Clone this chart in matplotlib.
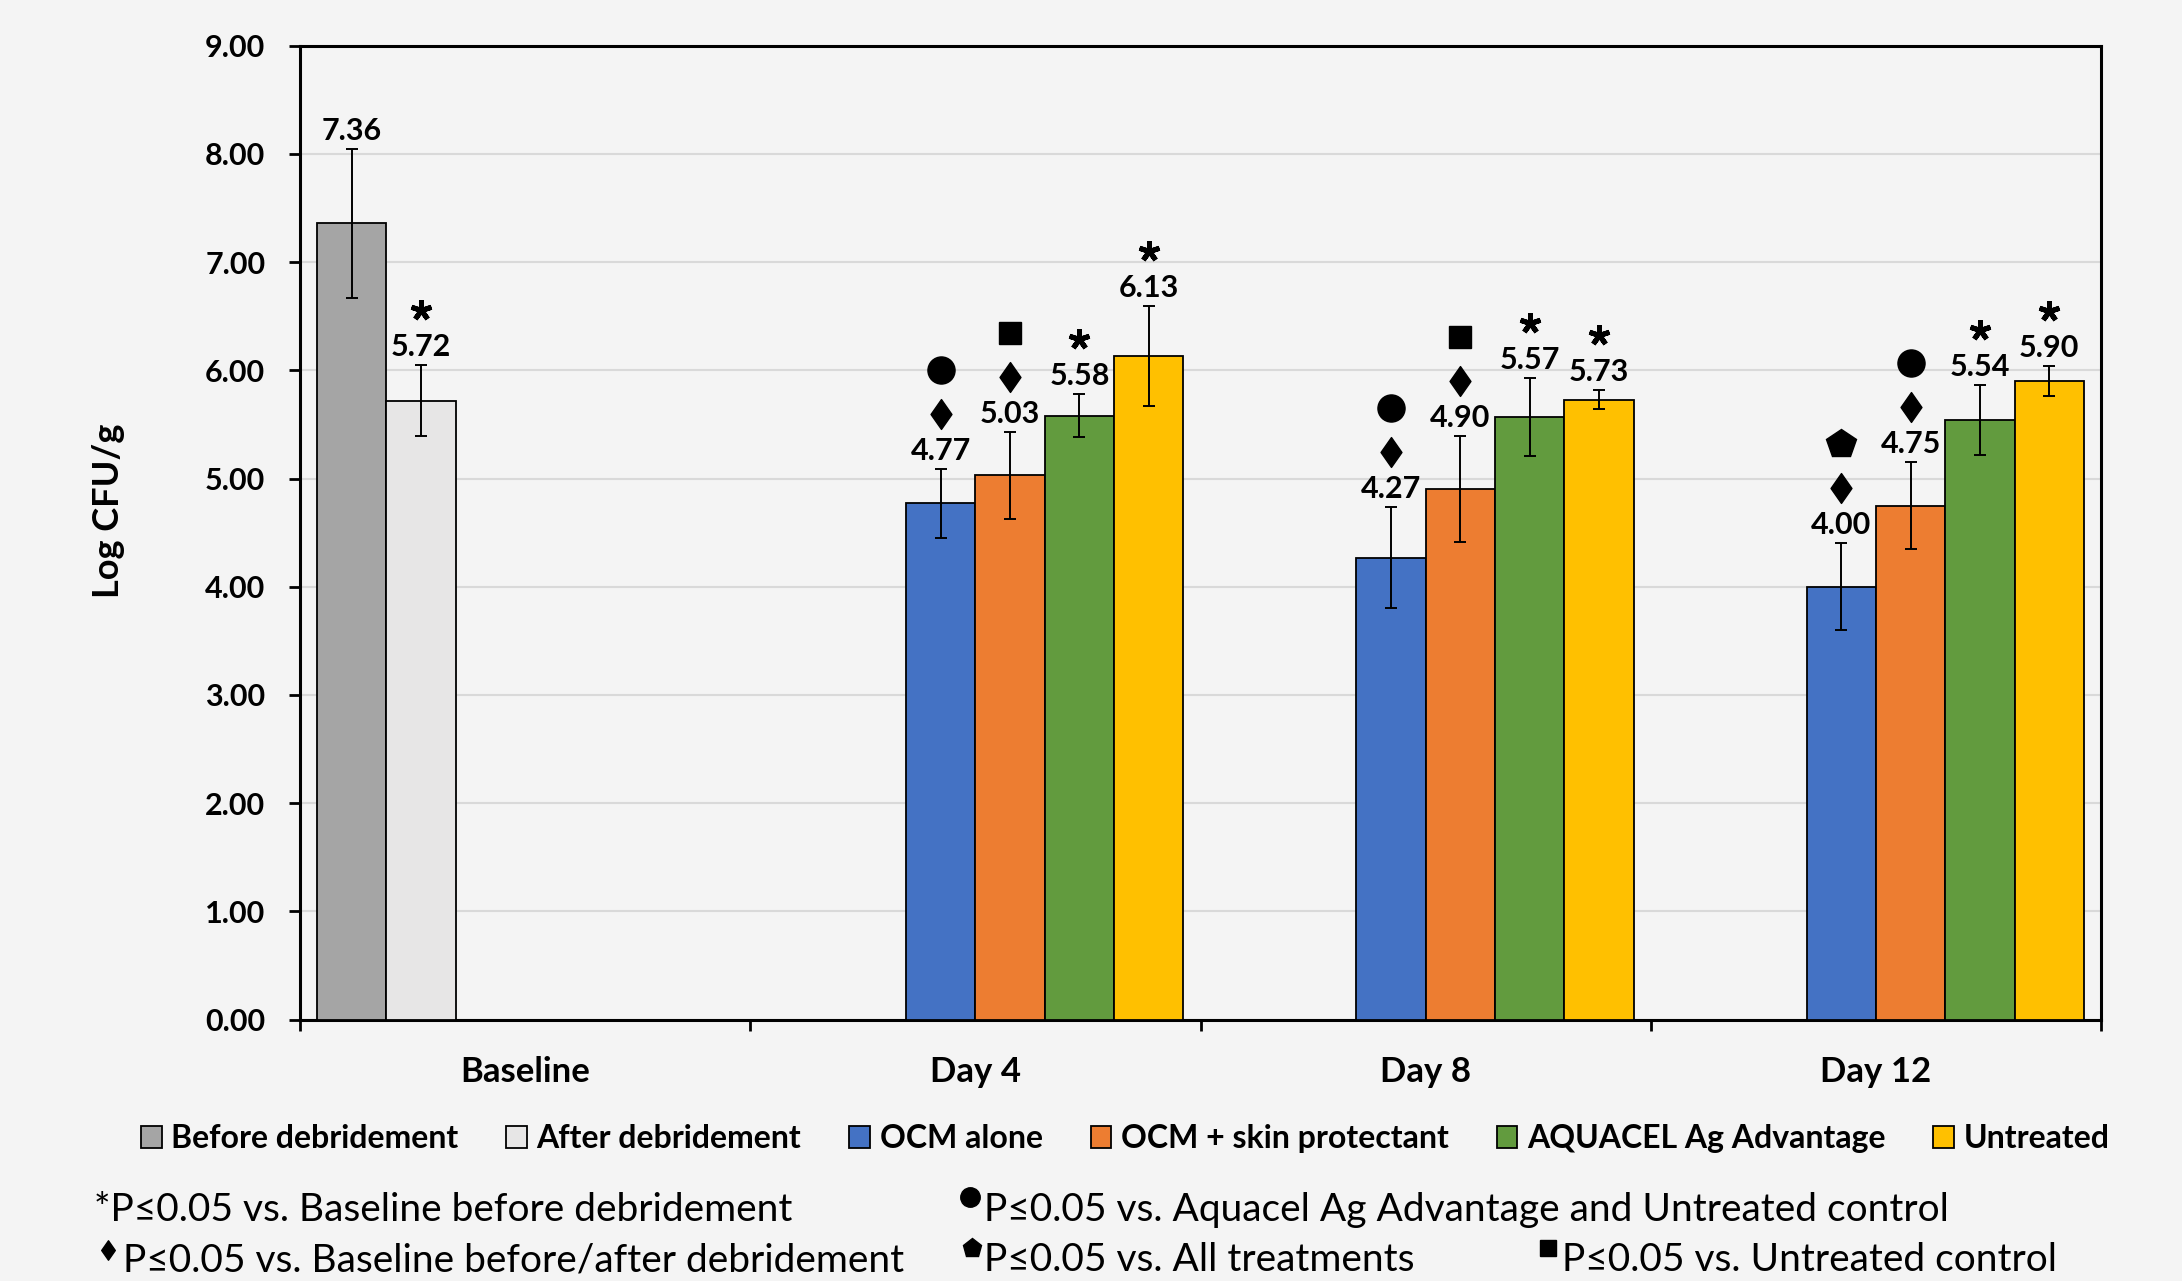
import numpy as np
import matplotlib
matplotlib.use("Agg")
import matplotlib.pyplot as plt
import matplotlib.transforms as mtransforms
from matplotlib.lines import Line2D
from matplotlib.patches import Patch
from matplotlib.path import Path

plt.rcParams['font.family'] = ['Lato', 'DejaVu Sans']

groups = ['Baseline', 'Day 4', 'Day 8', 'Day 12']
series = ['Before debridement', 'After debridement', 'OCM alone',
          'OCM + skin protectant', 'AQUACEL Ag Advantage', 'Untreated']
colors = ['#a5a5a5', '#e7e6e6', '#4472c4', '#ed7d31', '#629b3e', '#ffc000']

nan = np.nan
before_vals = [7.36, nan, nan, nan]
after_vals = [5.72, nan, nan, nan]
ocm_vals = [nan, 4.77, 4.27, 4.00]
ocm_skin_vals = [nan, 5.03, 4.90, 4.75]
aquacel_vals = [nan, 5.58, 5.57, 5.54]
untreated_vals = [nan, 6.13, 5.73, 5.90]

before_err = [0.69, nan, nan, nan]
after_err = [0.33, nan, nan, nan]
ocm_err = [nan, 0.32, 0.47, 0.40]
ocm_skin_err = [nan, 0.40, 0.49, 0.40]
aquacel_err = [nan, 0.20, 0.36, 0.32]
untreated_err = [nan, 0.46, 0.09, 0.14]

means = [before_vals, after_vals, ocm_vals, ocm_skin_vals, aquacel_vals, untreated_vals]
errors = [before_err, after_err, ocm_err, ocm_skin_err, aquacel_err, untreated_err]

# significance symbols above each bar, bottom to top: (series, group) -> list
sig_marks = {
    (1, 0): ['star'],
    (2, 1): ['diamond', 'circle'], (3, 1): ['diamond', 'square'],
    (4, 1): ['star'], (5, 1): ['star'],
    (2, 2): ['diamond', 'circle'], (3, 2): ['diamond', 'square'],
    (4, 2): ['star'], (5, 2): ['star'],
    (2, 3): ['diamond', 'pentagon'], (3, 3): ['diamond', 'circle'],
    (4, 3): ['star'], (5, 3): ['star'],
}

diamond = Path([(0, 1), (0.7, 0), (0, -1), (-0.7, 0), (0, 1)],
               [Path.MOVETO, Path.LINETO, Path.LINETO, Path.LINETO, Path.CLOSEPOLY])
marker_style = {
    'circle': dict(marker='o', ms=19.5),
    'square': dict(marker='s', ms=16),
    'diamond': dict(marker=diamond, ms=21.5),
    'pentagon': dict(marker='p', ms=22),
    'star': dict(marker=(5, 2, 0), ms=15, mew=3.6),
}

bg = '#f4f4f4'
fig = plt.figure(figsize=(21.82, 12.81), dpi=100, facecolor=bg)
ax = fig.add_axes([0.1375, 0.2041, 0.8254, 0.7602], facecolor=bg)

x = np.arange(len(groups))
w = 0.154
for i, (vals, errs) in enumerate(zip(means, errors)):
    xs = x + (i - 2.5) * w
    ax.bar(xs, vals, w, color=colors[i], edgecolor='black', linewidth=1.3,
           yerr=errs, error_kw=dict(ecolor='black', elinewidth=1.4,
                                    capsize=4.5, capthick=1.4), zorder=3)
    for j in range(len(groups)):
        v, e = vals[j], errs[j]
        if np.isnan(v):
            continue
        ax.annotate(f'{v:.2f}', (xs[j], v + e), xytext=(0, 9),
                    textcoords='offset pixels', ha='center', va='baseline',
                    fontsize=22, fontweight='bold', zorder=4)
        for k, m in enumerate(sig_marks.get((i, j), [])):
            dy = 55 + 44 * k
            tr = mtransforms.offset_copy(ax.transData, fig=fig, x=0, y=dy, units='dots')
            ax.plot([xs[j]], [v + e], transform=tr, color='black',
                    linestyle='none', zorder=4, **marker_style[m])

ax.set_xlim(-0.5, 3.5)
ax.set_ylim(0, 9)
ax.set_yticks(np.arange(0, 10, 1))
ax.set_yticklabels([f'{t:.2f}' for t in range(10)], fontsize=22, fontweight='bold')
ax.set_xticks([-0.5, 0.5, 1.5, 2.5, 3.5])
ax.set_xticklabels([])
ax.set_xticks(x, minor=True)
ax.set_xticklabels(groups, minor=True, fontsize=25, fontweight='bold')
ax.tick_params(axis='x', which='minor', length=0, pad=26)
ax.tick_params(axis='x', which='major', length=8, width=2, direction='out')
ax.tick_params(axis='y', length=8, width=2, direction='out', pad=17)
for s in ax.spines.values():
    s.set_linewidth(2.2)
    s.set_color('black')
ax.yaxis.grid(True, color='#d9d9d9', linewidth=1.5)
ax.set_axisbelow(True)

ax.set_ylabel('Log CFU/g', fontsize=26, fontweight='bold')
ax.yaxis.set_label_coords(-0.097, 0.522)

handles = [Patch(facecolor=c, edgecolor='black', linewidth=1.3) for c in colors]
fig.legend(handles, series, loc='center', bbox_to_anchor=(0.5157, 0.111), ncol=6,
           frameon=False, prop=dict(size=23, weight='bold'), handlelength=0.65,
           handleheight=0.65, handletextpad=0.3, columnspacing=1.5)

# footnotes
fs = 28
fig.text(0.043, 0.0465, '*P\u22640.05 vs. Baseline before debridement', fontsize=fs, va='baseline')
fig.text(0.0563, 0.0075, 'P\u22640.05 vs. Baseline before/after debridement', fontsize=fs, va='baseline')
fig.text(0.451, 0.0465, 'P\u22640.05 vs. Aquacel Ag Advantage and Untreated control', fontsize=fs, va='baseline')
fig.text(0.451, 0.0075, 'P\u22640.05 vs. All treatments', fontsize=fs, va='baseline')
fig.text(0.7157, 0.0075, 'P\u22640.05 vs. Untreated control', fontsize=fs, va='baseline')
foot_marks = [(0.0496, 0.024, diamond, 14), (0.4446, 0.0655, 'o', 14),
              (0.4455, 0.026, 'p', 14), (0.7096, 0.026, 's', 11)]
for fx, fy, mk, ms in foot_marks:
    fig.add_artist(Line2D([fx], [fy], transform=fig.transFigure, marker=mk,
                          markersize=ms, color='black', linestyle='none'))

fig.savefig('out.png', dpi=100, facecolor=bg)
